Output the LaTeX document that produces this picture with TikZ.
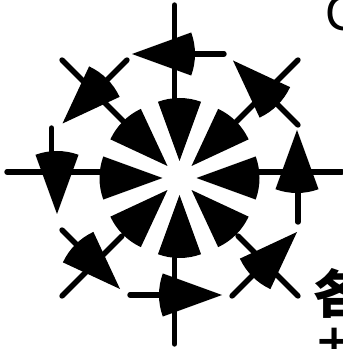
\documentclass[tikz,border=0pt]{standalone}
\usepackage{fontspec}
\newfontfamily\cjk{Noto Sans CJK SC}
\setmainfont{Liberation Sans}
\tikzset{
    spoke/.style={line width=5.4pt, line cap=round},
    blade/.style={fill=black, draw=none}
}
\newcommand{\bladeat}[3]{\fill[blade] (#1,#2) -- ++(#3+20:63pt) arc (#3+20:#3-20:63pt) -- cycle;}
\begin{document}
\begin{tikzpicture}[x=1pt, y=1pt]
    \useasboundingbox (0,0) rectangle (343,349);
    % 1. Trục chính
    \draw[spoke] (7,177) -- (105,177);
    \draw[spoke] (254,177) -- (342,177);
    \draw[spoke] (174.5,344) -- (174.5,245);
    \draw[spoke] (174.5,91) -- (174.5,5);
    \draw[spoke] (62,289) -- (128,223);
    \draw[spoke] (298,289) -- (232,223);
    \draw[spoke] (62,53) -- (122,113);
    \draw[spoke] (298,53) -- (238,113);

    % 2. Đoạn ngắn
    \draw[spoke] (195,295) -- (224,295);
    \draw[spoke] (130,54) -- (160,54);
    \draw[spoke] (51.5,221) -- (51.5,197);
    \draw[spoke] (298,156) -- (298,127);
    \draw[spoke] (127,289) -- (105,267);
    \draw[spoke] (298,224) -- (275,247);
    \draw[spoke] (232,53) -- (255,76);
    \draw[spoke] (62,119) -- (85,96);

    % 3. Cánh ở giữa
    \foreach \ang in {0,45,...,315} {
        \bladeat{{179.5+17*cos(\ang)}}{{171+17*sin(\ang)}}{\ang}
    }

    % 4. Cánh vòng ngoài
    \foreach \ax/\ay/\ang in {57/135/90, 297/219/-90, 132/295/0, 222/54/180,
        62.5/225.5/45, 233/288.5/-45, 297/117/225, 120/60/135} {
        \bladeat{\ax}{\ay}{\ang}
    }

    % 5. Chữ
    \begin{scope}
        \clip (0,0) rectangle (343,349);
        \node[anchor=west, inner sep=0pt, font=\fontsize{50}{50}\selectfont] (letterC) at (325,336) {C};
        \node[anchor=west, inner sep=0pt, font=\cjk\bfseries\fontsize{52}{52}\selectfont] (hanA) at (313,56) {各};
        \node[anchor=center, inner sep=0pt, font=\cjk\bfseries\fontsize{32}{32}\selectfont] (hanB) at (334,6) {十};
    \end{scope}
\end{tikzpicture}
\end{document}
